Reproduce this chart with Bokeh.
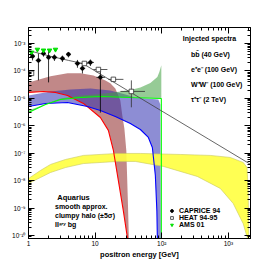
import math
from bokeh.plotting import figure
from bokeh.models import (Range1d, FixedTicker, LogAxis, CustomJSTickFormatter,
                          Legend, LegendItem, Label)
from bokeh.embed import file_html
from bokeh.resources import INLINE

FONT = "Liberation Sans"

# ---------------- data ----------------
# secondary positron background
bg_E = [1, 2.14, 4.0, 6.5, 20, 100, 500, 2200]
bg_flux = [5.5e-4, 3.4e-4, 2.4e-4, 1.86e-4, 3.6e-5, 3.44e-6, 3.3e-7, 3.8e-8]

# b bbar (40 GeV): smooth approximation (lower edge) and clumpy halo upper edge
bb_smooth_E = [1, 1.68, 2.54, 3.85, 6.68, 12.0, 15.8, 18.8, 22.3, 26.5, 29.4, 30.5, 30.8]
bb_smooth = [1.64e-5, 1.78e-5, 1.64e-5, 1.27e-5, 6.5e-6, 2.0e-6, 6.8e-7, 1.26e-7,
             1.02e-8, 8.1e-10, 1.5e-10, 8.5e-11, 1e-11]
bb_up_E = [1, 2.14, 3.85, 6.03, 9.44, 14.3, 16.9, 20.1, 22.3, 23.9, 25.6, 27.5, 29.4, 31.0, 32.1, 32.3]
bb_up = [3.8e-5, 6.3e-5, 8.1e-5, 8.1e-5, 6.8e-5, 4.5e-5, 3.5e-5, 2.3e-5, 1.26e-5, 8.3e-6,
         2.37e-6, 7.9e-7, 1.26e-7, 1.9e-9, 8.5e-11, 1e-11]

# W+W- (100 GeV)
ww_line_E = [1, 1.8, 3.85, 7.67, 12, 20.1, 33.8, 47.8, 63, 72.3, 80.2, 84.5, 85.9, 86.5]
ww_line = [5.05e-6, 6.5e-6, 7.06e-6, 5.05e-6, 3.6e-6, 2.18e-6, 1.21e-6, 7.3e-7, 3.74e-7,
           1.62e-7, 1.55e-8, 8.1e-10, 8.5e-11, 1e-11]
ww_up_E = [1, 2.14, 4.27, 8.51, 16.9, 28.5, 40.2, 88.9, 95.3, 97.1, 97.3]
ww_up = [1.27e-5, 1.78e-5, 2.1e-5, 2.29e-5, 1.94e-5, 1.38e-5, 1.07e-5, 9.1e-6, 6.0e-6, 8.5e-11, 1e-11]

# e+e- (100 GeV)
ee_line_E = [1, 1.8, 3.02, 6.03, 12, 33.8, 98.6, 98.6]
ee_line = [3.05e-6, 5.97e-6, 9.1e-6, 1.07e-5, 1.17e-5, 1.07e-5, 9.9e-6, 1e-11]
ee_up_E = [1, 3.02, 6.03, 12, 20.1, 33.8, 47.8, 67.5, 85.9, 92.1, 98.6]
ee_up = [3.6e-6, 9.9e-6, 1.27e-5, 1.45e-5, 1.65e-5, 2.0e-5, 2.5e-5, 3.6e-5, 6.0e-5, 9.0e-5, 1.6e-4]

# tau+tau- (2 TeV)
tt_up_E = [1, 1.51, 2.14, 3.59, 6.68, 21.6, 47.8, 190, 536, 1067, 1671, 1907, 1987, 2022, 2030]
tt_up = [1.2e-8, 2.34e-8, 3.9e-8, 5.9e-8, 8.3e-8, 9.8e-8, 9.8e-8, 9.0e-8, 8.3e-8, 7.0e-8,
         4.6e-8, 3.0e-8, 4.4e-9, 8.5e-11, 1e-11]
tt_lo_E = [1, 1.51, 2.14, 3.59, 6.68, 21.6, 40.2, 106, 342, 757, 1183, 1671, 1919, 1930]
tt_lo = [7.9e-9, 1.3e-8, 1.98e-8, 3.0e-8, 4.2e-8, 5.0e-8, 5.0e-8, 3.3e-8, 1.42e-8, 5.2e-9,
         1.47e-9, 2.7e-10, 8.5e-11, 1e-11]

# CAPRICE 94
cap_E = [1.15, 1.41, 1.68, 2.0, 2.45, 3.23, 3.98, 5.43, 6.45, 8.5, 12.0]
cap_E_lo = [1.05, 1.28, 1.55, 1.85, 2.25, 2.95, 3.65, 4.95, 5.9, 7.6, 10.5]
cap_E_hi = [1.25, 1.55, 1.82, 2.2, 2.7, 3.5, 4.35, 5.95, 7.1, 9.6, 14.0]
cap_F = [3.4e-4, 2.4e-4, 4.3e-4, 3.1e-4, 3.1e-4, 2.84e-4, 4.0e-4, 1.86e-4, 1.23e-4, 2.03e-4, 5.8e-5]
cap_F_lo = [2.4e-4, 4.5e-5, 3.3e-4, 3.8e-5, 2.3e-4, 2.1e-4, 3.1e-4, 1.3e-4, 8.0e-5, 1.5e-4, 3.0e-6]
cap_F_hi = [4.6e-4, 4.3e-4, 5.4e-4, 5.6e-4, 4.0e-4, 3.6e-4, 4.9e-4, 2.5e-4, 1.7e-4, 2.6e-4, 1.04e-4]

# HEAT 94-95
heat_E = [1.11, 6.9, 11.2, 18.8, 35]
heat_E_lo = [1.05, 6.0, 9.4, 15.8, 24]
heat_E_hi = [1.18, 8.0, 15.3, 26.6, 56]
heat_F = [8.1e-5, 1.86e-4, 1.12e-4, 4.9e-5, 1.78e-5]
heat_F_lo = [6.5e-5, 1.6e-4, 9.5e-5, 4.0e-5, 4.7e-6]
heat_F_hi = [1.0e-4, 2.2e-4, 1.35e-4, 6.0e-5, 4.5e-5]

# AMS 01
ams_E = [1.11, 1.36, 1.68, 2.07, 2.54]
ams_F = [4.7e-4, 6.0e-4, 5.6e-4, 5.6e-4, 6.0e-4]

x_ticks = [1, 10, 100, 1000]
y_ticks = [1e-10, 1e-9, 1e-8, 1e-7, 1e-6, 1e-5, 1e-4, 1e-3]

# ---------------- figure ----------------
p = figure(width=278, height=265, x_axis_type="log", y_axis_type="log",
           x_range=Range1d(1, 2150), y_range=Range1d(7.8e-11, 3.8e-3),
           output_backend="svg", toolbar_location=None,
           min_border_left=28, min_border_right=28, min_border_top=27, min_border_bottom=27)
p.grid.visible = False
p.outline_line_color = "black"
p.background_fill_color = "white"

x_minor = [m * 10 ** k for k in range(0, 4) for m in range(2, 10) if m * 10 ** k < 2150]
y_minor = [m * 10.0 ** k for k in range(-11, -2) for m in range(2, 10)]

fmt = CustomJSTickFormatter(code="""
const sup = {"-":"\u207b","0":"\u2070","1":"\u00b9","2":"\u00b2","3":"\u00b3","4":"\u2074","5":"\u2075","6":"\u2076","7":"\u2077","8":"\u2078","9":"\u2079"};
const e = Math.round(Math.log10(tick));
if (e == 0) return "1";
if (e == 1) return "10";
return "10" + String(e).split("").map(c => sup[c]).join("");
""")

def style_axis(ax, ticks, minor):
    ax.ticker = FixedTicker(ticks=ticks, minor_ticks=minor)
    ax.major_tick_in = 6
    ax.major_tick_out = 0
    ax.minor_tick_in = 3
    ax.minor_tick_out = 0
    ax.axis_line_color = "black"
    ax.major_tick_line_color = "black"
    ax.minor_tick_line_color = "black"
    ax.major_label_text_font = FONT
    ax.major_label_text_font_size = "6.5px"
    ax.major_label_text_color = "black"

style_axis(p.xaxis[0], x_ticks, x_minor)
style_axis(p.yaxis[0], y_ticks, y_minor)
p.xaxis[0].formatter = fmt
p.yaxis[0].formatter = fmt
p.xaxis[0].major_label_standoff = 1
p.yaxis[0].major_label_standoff = 3
p.xaxis[0].axis_label = "positron energy [GeV]"
p.xaxis[0].axis_label_text_font = FONT
p.xaxis[0].axis_label_text_font_size = "7.5px"
p.xaxis[0].axis_label_text_font_style = "bold"
p.xaxis[0].axis_label_standoff = 0
p.xaxis[0].axis_label_text_color = "black"

top_ax = LogAxis()
right_ax = LogAxis()
style_axis(top_ax, x_ticks, x_minor)
style_axis(right_ax, y_ticks, y_minor)
top_ax.major_label_overrides = {t: "" for t in x_ticks}
right_ax.major_label_overrides = {t: "" for t in y_ticks}
top_ax.major_label_standoff = 0
right_ax.major_label_standoff = 0
p.add_layout(top_ax, "above")
p.add_layout(right_ax, "right")

# ---------------- bands ----------------
p.patch(bb_up_E + bb_smooth_E[::-1], bb_up + bb_smooth[::-1],
        fill_color="#a04848", fill_alpha=0.65, line_color=None)
p.patch(ww_up_E + ww_line_E[::-1], ww_up + ww_line[::-1],
        fill_color="#3030b0", fill_alpha=0.55, line_color=None)
p.patch(ee_up_E + ee_line_E[:-1][::-1], ee_up + ee_line[:-1][::-1],
        fill_color="#40a040", fill_alpha=0.55, line_color=None)
p.patch(tt_up_E + tt_lo_E[::-1], tt_up + tt_lo[::-1],
        fill_color="#ffff40", fill_alpha=0.9, line_color="#c8c860", line_width=0.6)

# ---------------- lines ----------------
p.line(bb_smooth_E, bb_smooth, line_color="#ff0000", line_width=1.1)
p.line(ww_line_E, ww_line, line_color="#0000ff", line_width=1.1)
p.line(ee_line_E, ee_line, line_color="#00ff00", line_width=1.1)
bg_r = p.line(bg_E, bg_flux, line_color="#404040", line_width=0.8)

# ---------------- data points ----------------
p.segment(cap_E, cap_F_lo, cap_E, cap_F_hi, line_color="black", line_width=0.8)
p.segment(cap_E_lo, cap_F, cap_E_hi, cap_F, line_color="black", line_width=0.8)
p.segment(heat_E, heat_F_lo, heat_E, heat_F_hi, line_color="#303030", line_width=0.8)
p.segment(heat_E_lo, heat_F, heat_E_hi, heat_F, line_color="#303030", line_width=0.8)
cap_r = p.scatter(cap_E, cap_F, marker="circle", size=3.5, fill_color="black", line_color="black")
heat_r = p.scatter(heat_E, heat_F, marker="square", size=4.5, fill_color="white", line_color="#303030", line_width=0.8)
ams_r = p.scatter(ams_E, ams_F, marker="inverted_triangle", size=4.5, fill_color="#00e000", line_color="#00e000")

# ---------------- legend swatches ----------------
d_bb = p.line([], [], line_color="#ff9a9a", line_width=1.5)
d_ee = p.line([], [], line_color="#66ff66", line_width=1.5)
d_ww = p.line([], [], line_color="#6a6ae8", line_width=1.5)
d_tt = p.line([], [], line_color="#c8c890", line_width=1.5)
d_smooth = p.line([], [], line_color="#ff0000", line_width=1.5, line_dash="1 1")
d_halo = p.patch([], [], fill_color="#c47070", line_color="#a04848", line_width=1)
d_bg = p.line([], [], line_color="#404040", line_width=0.8)


def make_legend(items, loc, gh, gw, spacing, standoff):
    leg = Legend(items=items, location=loc, border_line_color=None, background_fill_alpha=0,
                 padding=0, margin=0, spacing=spacing, glyph_height=gh, glyph_width=gw,
                 label_height=gh, label_standoff=standoff,
                 label_text_font=FONT, label_text_font_size="7px", label_text_font_style="bold",
                 label_text_color="black")
    p.add_layout(leg)
    return leg

make_legend([LegendItem(label="bb\u0304 (40 GeV)", renderers=[d_bb]),
             LegendItem(label="e\u207ae\u207b (100 GeV)", renderers=[d_ee]),
             LegendItem(label="W\u207aW\u207b (100 GeV)", renderers=[d_ww]),
             LegendItem(label="\u03c4\u207a\u03c4\u207b (2 TeV)", renderers=[d_tt])],
            (142, 134), 9, 9, 6, 12)

make_legend([LegendItem(label="smooth approx.", renderers=[d_smooth]),
             LegendItem(label="clumpy halo (\u00b15\u03c3)", renderers=[d_halo]),
             LegendItem(label="II\u1d43\u02b3\u02b8 bg", renderers=[d_bg])],
            (8, 10), 8, 14, 1, 5)

make_legend([LegendItem(label="CAPRICE 94", renderers=[cap_r]),
             LegendItem(label="HEAT 94-95", renderers=[heat_r]),
             LegendItem(label="AMS 01", renderers=[ams_r])],
            (140, 10), 7, 7, 0, 4)

p.add_layout(Label(x=181, y=200, x_units="screen", y_units="screen", text="Injected spectra",
                   text_align="center", text_baseline="middle", text_font=FONT,
                   text_font_size="7px", text_font_style="bold", text_color="black"))
p.add_layout(Label(x=45, y=41, x_units="screen", y_units="screen", text="Aquarius",
                   text_align="center", text_baseline="middle", text_font=FONT,
                   text_font_size="7.5px", text_font_style="bold", text_color="black"))
p.add_layout(Label(x=-18, y=101, x_units="screen", y_units="screen",
                   text="E\u00b2 \u03a6(E) [cm\u207b\u00b2s\u207b\u00b9sr\u207b\u00b9GeV\u00b2]",
                   angle=math.pi / 2, text_align="center", text_baseline="middle", text_font=FONT,
                   text_font_size="7.3px", text_font_style="bold", text_color="black"))

open("out.html", "w").write(file_html(p, INLINE))
